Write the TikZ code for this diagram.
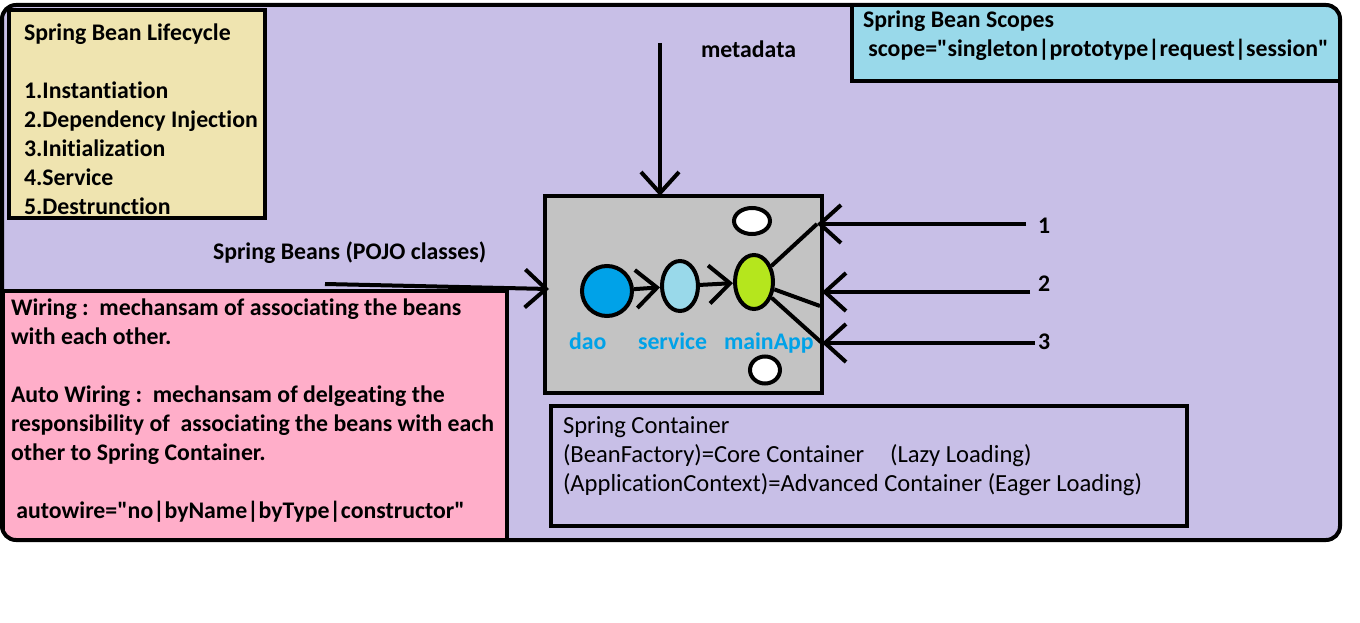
\documentclass[tikz,border=0pt]{standalone}
\usepackage{fontspec}
\newfontfamily\calib{Carlito}[Ligatures=NoCommon]
\usetikzlibrary{arrows.meta,positioning,shapes.geometric}
\definecolor{lav}{HTML}{C8BFE7}
\definecolor{cream}{HTML}{EFE4B0}
\definecolor{sky}{HTML}{99D9EA}
\definecolor{rose}{HTML}{FFAEC9}
\definecolor{steel}{HTML}{C3C3C3}
\definecolor{azure}{HTML}{00A2E8}
\definecolor{lime}{HTML}{B5E61D}
\newcommand\topline{\rule{0pt}{18pt}}
\tikzset{
  box/.style = {draw, line width=4.5pt, anchor=north west, inner sep=0pt, outer sep=0pt},
  txt/.style = {anchor=north west, align=left, inner sep=0pt, font=\calib\bfseries\fontsize{23.8}{29}\selectfont},
  lbl/.style = {anchor=base west, inner sep=0pt, font=\calib\bfseries\fontsize{23.8}{29}\selectfont},
  arr/.style = {-{Straight Barb[length=21pt,width=38pt]}},
  bean/.style = {draw, ellipse, inner sep=0pt, line width=4pt}
}

\begin{document}
\begin{tikzpicture}[x = 1pt, y = -1pt, line width = 4pt]
  \useasboundingbox (0,0) rectangle (1360,623);
  \fill[lav, rounded corners=14pt] (2,5) rectangle (1340,540);
  \begin{scope}
    \clip[rounded corners=14pt] (2,5) rectangle (1340,540);
    \node[box, fill=cream, minimum width=256pt, minimum height=208pt] (LIFE) at (9,10) {};
    \node[box, fill=sky, minimum width=488pt, minimum height=76pt] (SCOPE) at (852,5) {};
    \node[box, fill=rose, minimum width=504pt, minimum height=249pt] (WIRE) at (3,291) {};
    \node[box, minimum width=636pt, minimum height=120pt] (CORE) at (551,406) {};
    \node[box, fill=steel, minimum width=277pt, minimum height=197pt] (BOX) at (545,196) {};
  \end{scope}
  \draw[rounded corners=14pt] (2,5) rectangle (1340,540);

  \node[txt] (LIFET) at (22,20) {\topline Spring Bean Lifecycle\\[29pt]1.Instantiation\\2.Dependency Injection\\3.Initialization\\4.Service\\5.Destrunction};
  \node[txt] (SCOPET) at (861,7.5) {\topline Spring Bean Scopes\\\ scope="singleton|prototype|request|session"};
  \node[txt] (WIRET) at (9,295.5) {\topline Wiring :\ \ mechansam of associating the beans\\with each other.\\[29pt]Auto Wiring :\ \ mechansam of delgeating the\\responsibility of\ \ associating the beans with each\\other to Spring Container.\\[29pt]\ autowire="no|byName|byType|constructor"};
  \node[txt, font=\calib\fontsize{24.6}{29}\selectfont] (CORET) at (561,413) {\topline Spring Container\\(BeanFactory)=Core Container\hspace{26pt}(Lazy Loading)\\(ApplicationContext)=Advanced Container (Eager Loading)};

  \node[lbl] (META) at (699,58) {metadata};
  \node[lbl] (BEANS) at (211,259) {Spring Beans (POJO classes)};
  \node[lbl] (N1) at (1036,233) {1};
  \node[lbl] (N2) at (1036,291) {2};
  \node[lbl] (N3) at (1036,349) {3};

  \node[bean, circle, fill=azure, minimum size=50pt] (DAO) at (607,291) {};
  \node[bean, fill=sky, minimum width=36pt, minimum height=50pt] (SRV) at (680,286) {};
  \node[bean, fill=lime, minimum width=38pt, minimum height=54pt] (APP) at (754,282) {};
  \node[bean, fill=white, minimum width=36pt, minimum height=26pt] (W1) at (752,221) {};
  \node[bean, fill=white, minimum width=30pt, minimum height=27pt] (W2) at (765,370) {};
  \node[lbl, text=azure] (DAOL) at (567,349) {dao};
  \node[lbl, text=azure] (SRVL) at (636,349) {service};
  \node[lbl, text=azure] (APPL) at (722,349) {mainApp};

  \coordinate (M) at (660,43);
  \coordinate (B1) at (325,284);
  \coordinate (B2) at (549,289);
  \coordinate (S1) at (1026,224);
  \coordinate (S2) at (1030,292);
  \coordinate (S3) at (1035,343);
  \coordinate (T1) at (817,224);
  \coordinate (T2) at (822,292);
  \coordinate (T3) at (822,343);
  \coordinate (U2) at (820,306);

  \draw[arr] (M) -- (M |- BOX.north);
  \draw[arr] (B1) -- (B2);
  \draw[arr] (DAO) -- (SRV);
  \draw[arr] (SRV) -- (APP);
  \draw (APP) -- (T1) (APP) -- (U2) (APP) -- (T3);
  \draw[arr] (S1) -- (T1);
  \draw[arr] (S2) -- (T2);
  \draw[arr] (S3) -- (T3);
\end{tikzpicture}
\end{document}
